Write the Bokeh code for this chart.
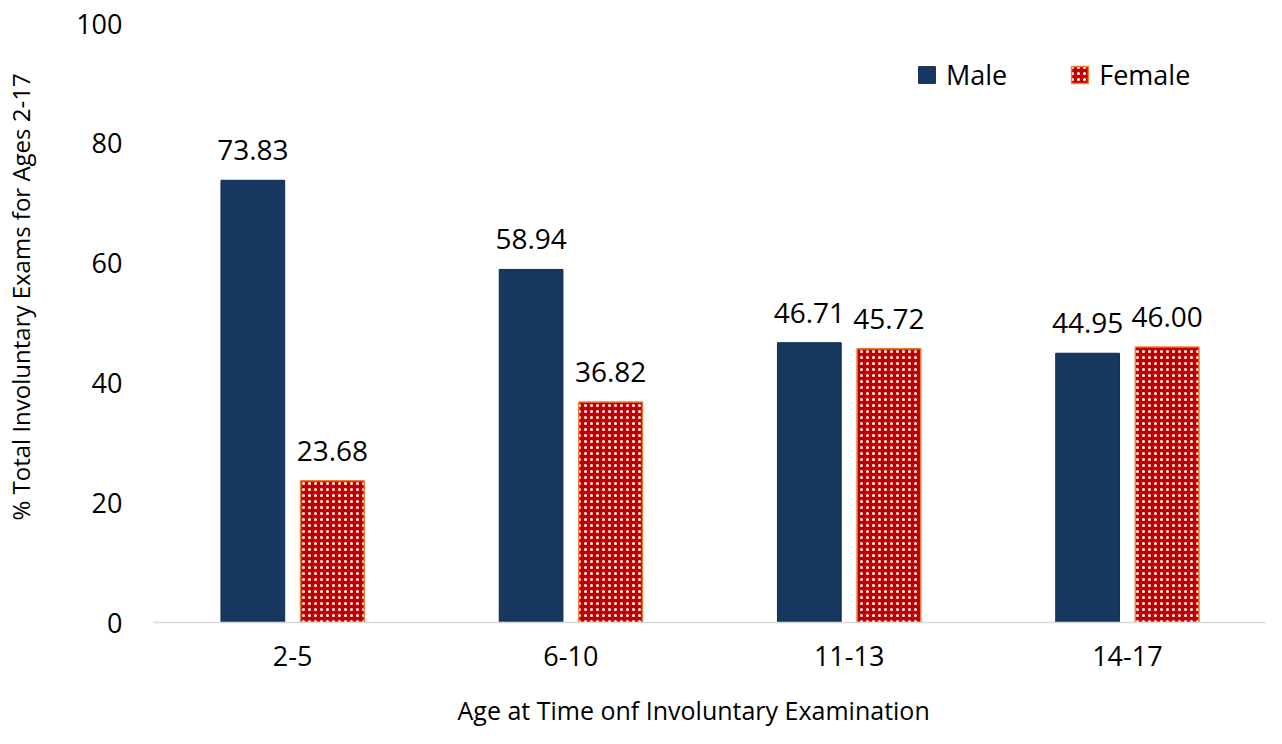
from bokeh.plotting import figure
from bokeh.models import (FactorRange, Range1d, FixedTicker, Legend, LegendItem,
                          ColumnDataSource, Title, LinearAxis)
from bokeh.transform import dodge
from bokeh.core.properties import value
from bokeh.embed import file_html
from bokeh.resources import INLINE

categories = ["2-5", "6-10", "11-13", "14-17"]
male = [73.83, 58.94, 46.71, 44.95]
female = [23.68, 36.82, 45.72, 46.00]
y_ticks = [0, 20, 40, 60, 80, 100]
x_title = "Age at Time onf Involuntary Examination"
y_title = "% Total Involuntary Exams for Ages 2-17"

FONT = "Open Sans"

src = ColumnDataSource(dict(
    cat=categories,
    male=male,
    female=female,
    male_lbl=[f"{v:.2f}" for v in male],
    female_lbl=[f"{v:.2f}" for v in female],
))

p = figure(width=1266, height=728, output_backend="svg", toolbar_location=None,
           x_range=FactorRange(factors=categories, range_padding=0),
           y_range=Range1d(0, 100),
           min_border_left=153, min_border_right=0, min_border_top=23, min_border_bottom=106)
p.outline_line_color = None
p.xgrid.grid_line_color = None
p.ygrid.grid_line_color = None

rm = p.vbar(x=dodge("cat", -0.143, range=p.x_range), top="male", width=0.229, source=src,
            fill_color="#17375E", line_color="#10295A", line_width=1)
rf = p.vbar(x=dodge("cat", 0.143, range=p.x_range), top="female", width=0.229, source=src,
            fill_color="#C00000", line_color="#ED7D31", line_width=1.5,
            hatch_pattern="dot", hatch_color="white", hatch_scale=6, hatch_weight=0.9)

for col, off in (("male", -0.143), ("female", 0.143)):
    p.text(x=dodge("cat", off, range=p.x_range), y=col, text=col + "_lbl", source=src,
           text_align="center", text_baseline="alphabetic", y_offset=-30,
           text_font=value(FONT), text_font_size="28px", text_color="#000000")

# axes
p.yaxis.ticker = FixedTicker(ticks=y_ticks)
p.yaxis.axis_line_color = None
p.yaxis.major_tick_line_color = None
p.yaxis.minor_tick_line_color = None
p.yaxis.major_tick_out = 0
p.yaxis.major_tick_in = 0
p.yaxis.minor_tick_out = 0
p.yaxis.minor_tick_in = 0
p.yaxis.major_label_standoff = 31
p.yaxis.major_label_text_font = FONT
p.yaxis.major_label_text_font_size = "27px"
p.yaxis.major_label_text_color = "#000000"

p.xaxis.axis_line_color = "#D9D9D9"
p.xaxis.axis_line_width = 1.5
p.xaxis.major_tick_line_color = None
p.xaxis.minor_tick_line_color = None
p.xaxis.major_label_standoff = 17
p.xaxis.major_label_text_font = FONT
p.xaxis.major_label_text_font_size = "27px"
p.xaxis.major_label_text_color = "#000000"


def spacer(size, tick):
    # an invisible axis (white tick on white border, no labels) that only reserves room
    return LinearAxis(ticker=FixedTicker(ticks=[tick]), axis_line_color=None,
                      major_tick_line_color="white", minor_tick_line_color=None,
                      major_label_text_color=None,
                      major_tick_out=size, major_tick_in=0, minor_tick_out=0, minor_tick_in=0)


p.add_layout(spacer(37, 50), "left")
p.add_layout(Title(text=y_title, align="left", offset=102, standoff=0,
                   text_font=FONT, text_font_size="24px", text_font_style="normal",
                   text_color="#000000"), "left")

p.add_layout(spacer(22, 2), "below")
p.add_layout(Title(text=x_title, align="left", offset=304, standoff=0,
                   text_font=FONT, text_font_size="25px", text_font_style="normal",
                   text_color="#000000"), "below")

legend = Legend(items=[LegendItem(label="Male", renderers=[rm]),
                       LegendItem(label="Female", renderers=[rf])],
                orientation="horizontal", location=(763, 529),
                glyph_width=21, glyph_height=21, label_standoff=9, spacing=62,
                padding=0, margin=0, border_line_color=None, background_fill_alpha=0,
                label_text_font=FONT, label_text_font_size="27px", label_text_color="#000000")
p.add_layout(legend, "center")

open("out.html", "w").write(file_html(p, INLINE))
